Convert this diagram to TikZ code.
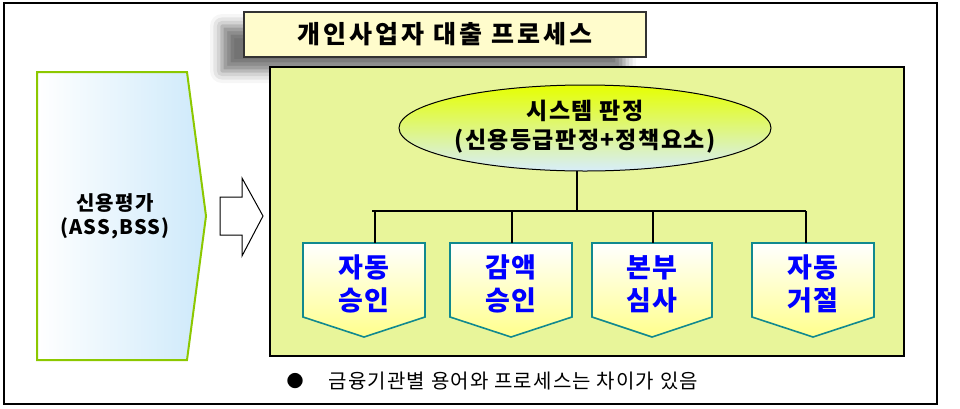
\documentclass[tikz,border=0pt]{standalone}
\usepackage{fontspec}
\setmainfont{Noto Sans CJK KR}
\usetikzlibrary{shadows.blur}
\definecolor{boxgreen}{HTML}{E8F59A}
\definecolor{lgreen}{HTML}{8CC800}
\definecolor{teal}{HTML}{11898F}
\definecolor{lblue}{HTML}{CDE9FA}
\newfontfamily\widefnt[LetterSpace=12]{Noto Sans CJK KR}
\newfontfamily\midfnt[LetterSpace=6]{Noto Sans CJK KR}
\begin{document}
\begin{tikzpicture}[x=1pt,y=-1pt,
  lbl/.style={font=\midfnt\bfseries\fontsize{27}{33}\selectfont,text=blue,align=center},
  res/.style={draw=teal,line width=1.6pt,top color=white,bottom color=yellow!45},
  ln/.style={line width=1.2pt}]
\useasboundingbox (0,0) rectangle (960,408);
\draw[line width=1.5pt] (4,3) rectangle (937,404);
% title
\node[draw=black!80,line width=1.5pt,fill=yellow!20,minimum width=402pt,minimum height=45pt,font=\widefnt\bfseries\fontsize{25}{30}\selectfont,
  blur shadow={shadow xshift=-22pt,shadow yshift=-14pt,shadow blur radius=12pt,shadow opacity=55}] (title) at (445,34.5) {개인사업자 대출 프로세스};
% left pentagon
\path[draw=lgreen,line width=2pt,left color=white,right color=lblue] (37,72) -- (187,72) -- (206,216) -- (187,360) -- (37,360) -- cycle;
\node[font=\midfnt\bfseries\fontsize{20}{24}\selectfont,align=center] (cred) at (115,216) {신용평가\\(ASS,BSS)};
% hollow arrow
\draw[line width=1pt,fill=white] (220,197) -- (242,197) -- (242,178) -- (263,216) -- (242,256) -- (242,235) -- (220,235) -- cycle;
% green box
\draw[line width=1.5pt,fill=boxgreen] (270,67) rectangle (904,356);
% ellipse
\path[draw=black,line width=1pt,top color=yellow!90!green,bottom color=lblue!80] (585,128) ellipse [x radius=186, y radius=43];
\node[font=\midfnt\bfseries\fontsize{23}{29}\selectfont,align=center] (sys) at (585,127) {시스템 판정\\(신용등급판정+정책요소)};
\coordinate (e) at (577,171);
\coordinate (j) at (577,211);
\draw[ln] (e) -- (j);
\draw[ln] (372,211) -- (806,211);
% result boxes
\foreach \xa/\xb/\xd/\t/\n in {303/425/375/{자동\\승인}/b1,450/572/512/{감액\\승인}/b2,592/712/653/{본부\\심사}/b3,752/874/806/{자동\\거절}/b4}{
  \path[res] (\xa,243) -- (\xb,243) -- (\xb,317) -- ({(\xa+\xb)/2},337) -- (\xa,317) -- cycle;
  \node[lbl] (\n) at ({(\xa+\xb)/2},284) {\t};
  \draw[ln] (\xd,211) -- (\xd,243);
}
\node[font=\fontsize{17}{20}\selectfont] (bul) at (295,381) {●};
\node[font=\midfnt\fontsize{20}{24}\selectfont,anchor=west] (note) at (325,381) {금융기관별 용어와 프로세스는 차이가 있음};
\end{tikzpicture}
\end{document}
